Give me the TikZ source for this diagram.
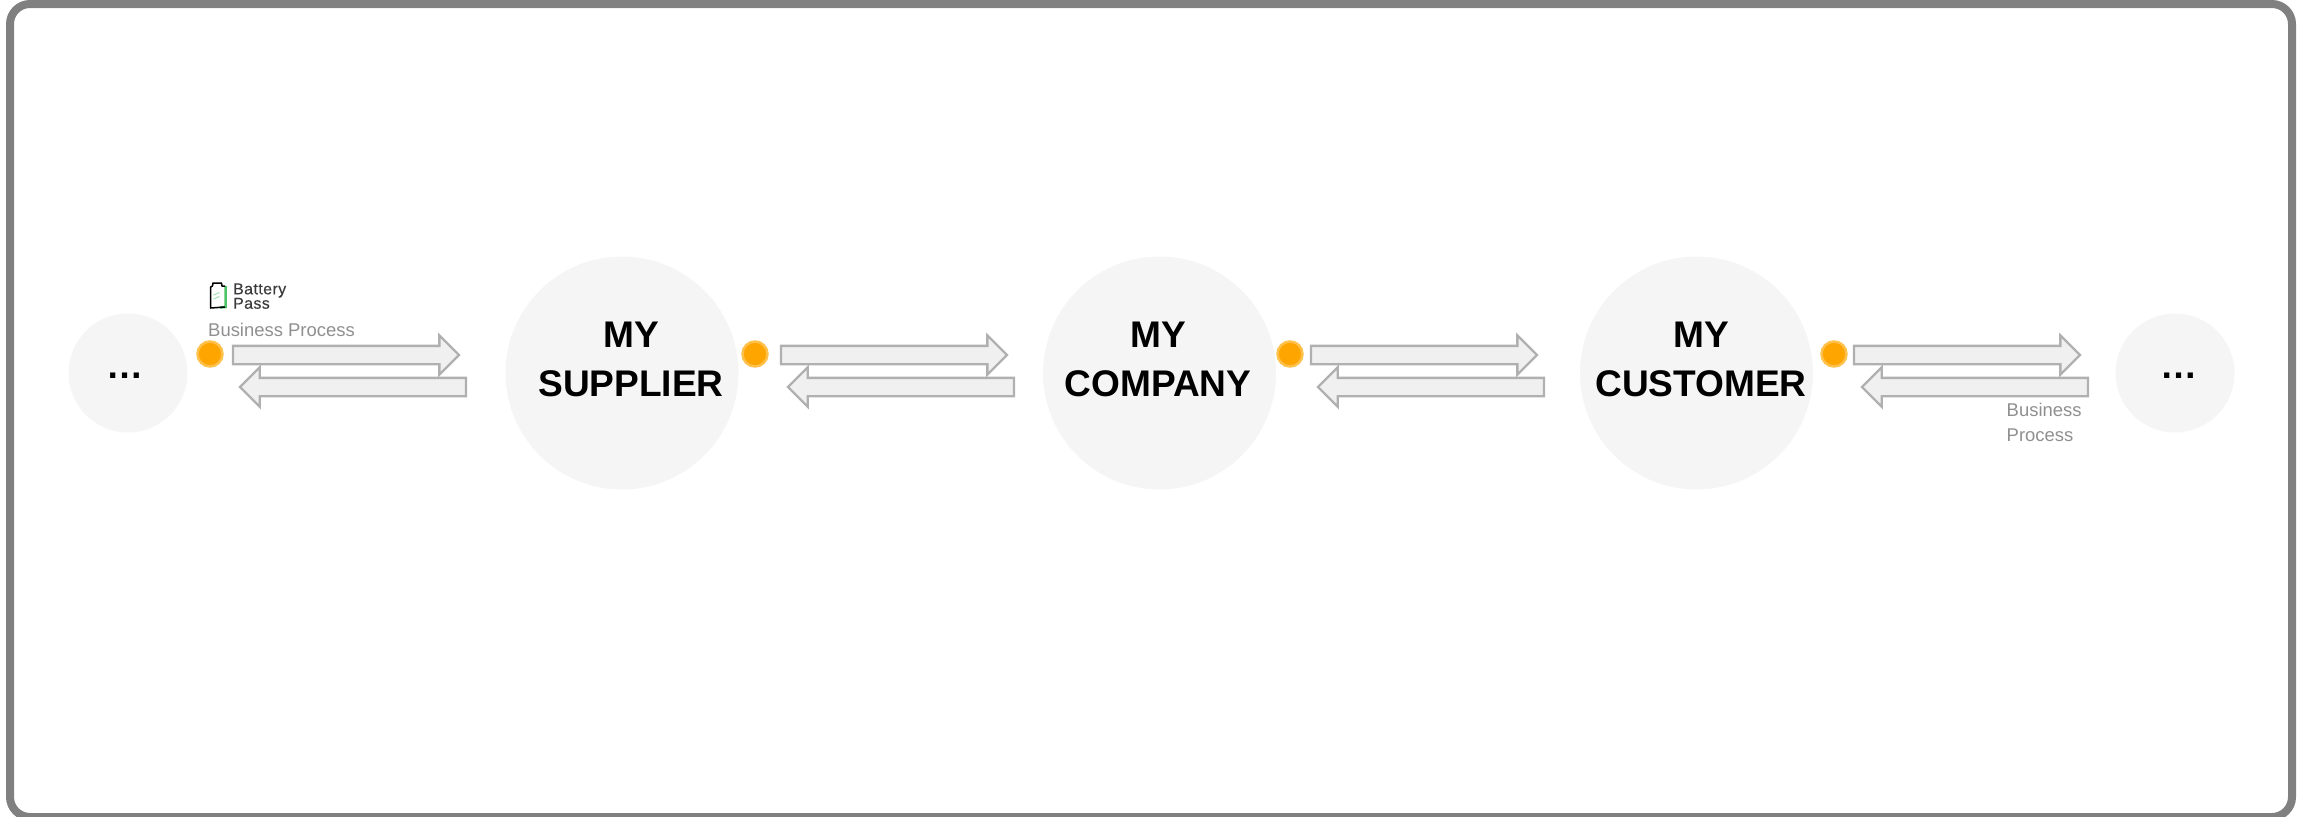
\documentclass[tikz,border=0pt]{standalone}
\usepackage{fontspec}
\setmainfont{Liberation Sans}
\newfontfamily\logofont[LetterSpace=3,FakeBold=0.4]{Liberation Sans}
\usetikzlibrary{shapes.arrows}
\definecolor{framegray}{HTML}{808080}
\definecolor{partyfill}{HTML}{F5F5F5}
\definecolor{flowfill}{HTML}{F0F0F0}
\definecolor{flowline}{HTML}{B0B0B0}
\definecolor{procgray}{HTML}{8F8F8F}
\definecolor{dotorange}{HTML}{FFA500}
\definecolor{logotext}{HTML}{3A3A3A}
\definecolor{logogreen}{HTML}{4CC364}
\begin{document}
\begin{tikzpicture}[
        party/.style={circle,fill=partyfill,inner sep=0pt,minimum size=2.33cm},
        endparty/.style={circle,fill=partyfill,inner sep=0pt,minimum size=1.19cm},
        partyname/.style={font=\fontsize{10.55}{13.9}\selectfont\bfseries,align=center,inner sep=0pt,anchor=base},
        passdot/.style={circle,fill=dotorange,draw=dotorange!70!white,line width=.025cm,inner sep=0pt,minimum size=.25cm},
        flow/.style={single arrow,draw=flowline,fill=flowfill,line width=.023cm,inner sep=0pt,outer sep=0pt,
            text height=.16cm,text depth=0pt,single arrow head extend=.105cm,minimum height=2.26cm,anchor=tail},
        flowback/.style={flow,shape border rotate=180},
        proclabel/.style={font=\fontsize{5.25}{7.1}\selectfont,text=procgray,align=left,inner sep=0pt,anchor=base west},
        logolabel/.style={font=\logofont\fontsize{4.5}{4.1}\selectfont,text=logotext,inner sep=0pt,anchor=base west}
    ]
            \useasboundingbox (0,0) rectangle (23.03,8.16);
            \draw[framegray,line width=.08cm,rounded corners=.2cm] (0.10,-0.01) rectangle (22.92,8.12);
            \node[endparty] (prev) at (1.28,4.43) {};
            \node[party] (supplier) at (6.22,4.43) {};
            \node[party] (company) at (11.595,4.43) {};
            \node[party] (customer) at (16.965,4.43) {};
            \node[endparty] (next) at (21.75,4.43) {};
            \node[partyname] (prevname) at (1.25,4.38) {…};
            \node[partyname] (suppliername) at (6.31,4.20) {MY\\SUPPLIER};
            \node[partyname] (companyname) at (11.58,4.20) {MY\\COMPANY};
            \node[partyname] (customername) at (17.01,4.20) {MY\\CUSTOMER};
            \node[partyname] (nextname) at (21.79,4.38) {…};
            \node[passdot] (prevdot) at (2.10,4.62) {};
            \node[passdot] (supplierdot) at (7.55,4.62) {};
            \node[passdot] (companydot) at (12.90,4.62) {};
            \node[passdot] (customerdot) at (18.34,4.62) {};
            \node[flow] (flowa) at (2.33,4.61) {};
            \node[flowback] (backa) at (4.66,4.29) {};
            \node[flow] (flowb) at (7.81,4.61) {};
            \node[flowback] (backb) at (10.14,4.29) {};
            \node[flow] (flowc) at (13.11,4.61) {};
            \node[flowback] (backc) at (15.44,4.29) {};
            \node[flow] (flowd) at (18.54,4.61) {};
            \node[flowback] (backd) at (20.88,4.29) {};
            \node[proclabel] (procleft) at (2.075,4.80) {Business Process};
            \node[proclabel] (procright) at (20.06,3.747) {Business\\Process};
            \node[logolabel] (logotop) at (2.325,5.217) {Battery};
            \node[logolabel] (logobottom) at (2.325,5.073) {Pass};
            \draw[logogreen,line width=.025cm] (2.255,5.30)--(2.255,5.09)--(2.20,5.085);
            \draw[black,line width=.015cm,line join=round] (2.25,5.30)--(2.22,5.30)--(2.215,5.33)--(2.13,5.33)--(2.125,5.30)--(2.107,5.29)--(2.107,5.08)--(2.25,5.09);
            \draw[logogreen!45!white,line width=.012cm] (2.135,5.17)--(2.195,5.195);
            \draw[logogreen!45!white,line width=.012cm] (2.135,5.21)--(2.195,5.235);
        \end{tikzpicture}
\end{document}
